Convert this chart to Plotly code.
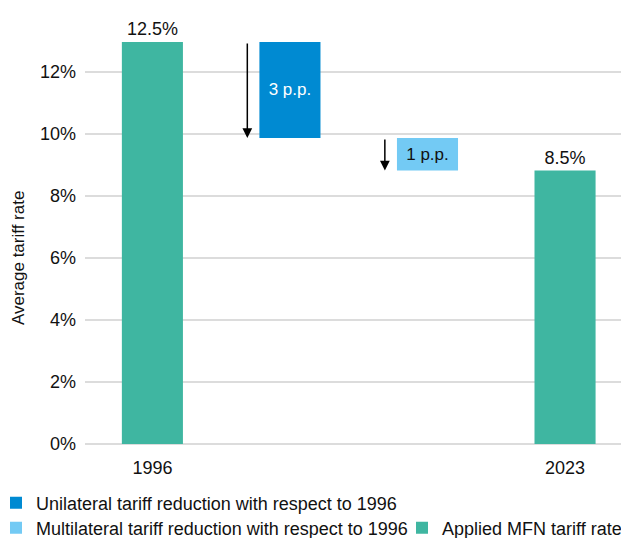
import plotly.graph_objects as go

# ---- data ----
years = ["1996", "2023"]
year_pos = [0, 3]
mfn_rate = [12.97, 8.82]           # bar heights as drawn
mfn_labels = ["12.5%", "8.5%"]
unilateral_reduction = 3.1
multilateral_reduction = 1.05
reduction_labels = ["3 p.p.", "1 p.p."]
y_ticks = [0, 2, 4, 6, 8, 10, 12]
y_ticktext = ["0%", "2%", "4%", "6%", "8%", "10%", "12%"]

TEAL = "#3FB6A1"
BLUE = "#008AD2"
LIGHT = "#73CAF4"
FONT = "Liberation Sans, Arial, sans-serif"

# page body adds an 8px margin, so the figure is 8px smaller each way
W, H = 621, 530

uni_base = mfn_rate[0] - unilateral_reduction
multi_base = uni_base - multilateral_reduction

fig = go.Figure()

fig.add_trace(go.Bar(
    x=[1], y=[unilateral_reduction], base=[uni_base],
    name="Unilateral tariff reduction with respect to 1996",
    marker=dict(color=BLUE, line=dict(width=0)), width=0.444,
    text=[reduction_labels[0]], textposition="inside", insidetextanchor="middle",
    textangle=0, textfont=dict(color="white", size=17, family=FONT),
    constraintext="none",
    legend="legend", cliponaxis=False,
))
fig.add_trace(go.Bar(
    x=[2], y=[multilateral_reduction], base=[multi_base],
    name="Multilateral tariff reduction with respect to 1996",
    marker=dict(color=LIGHT, line=dict(width=0)), width=0.444,
    text=[reduction_labels[1]], textposition="inside", insidetextanchor="middle",
    textangle=0, textfont=dict(color="#111111", size=17, family=FONT),
    constraintext="none",
    legend="legend2", cliponaxis=False,
))
fig.add_trace(go.Bar(
    x=year_pos, y=mfn_rate,
    name="Applied MFN tariff rate",
    marker=dict(color=TEAL, line=dict(width=0)), width=0.444,
    text=mfn_labels, textposition="outside",
    textfont=dict(color="#111111", size=18, family=FONT),
    constraintext="none",
    legend="legend3", cliponaxis=False,
))

# arrows showing the reductions
arrow_specs = [
    (1 - 0.31, mfn_rate[0], uni_base),
    (2 - 0.31, uni_base, multi_base),
]
for xa, ytop, ybot in arrow_specs:
    fig.add_annotation(
        x=xa, y=ybot, ax=xa, ay=ytop, xref="x", yref="y", axref="x", ayref="y",
        showarrow=True, arrowhead=2, arrowsize=1.3, arrowwidth=1.5,
        arrowcolor="black", text="",
    )

# y axis title
fig.add_annotation(
    text="Average tariff rate", textangle=-90, showarrow=False,
    xref="paper", yref="paper", x=-0.123, y=0.4615,
    xanchor="center", yanchor="middle",
    font=dict(size=17, family=FONT, color="#111111"),
)

leg_font = dict(size=18, family=FONT, color="#111111")
common = dict(xref="container", yref="container", xanchor="left", yanchor="middle",
              font=leg_font, bgcolor="rgba(0,0,0,0)", borderwidth=0,
              indentation=-12, itemclick=False, itemdoubleclick=False)
fig.update_layout(
    width=W, height=H,
    margin=dict(l=77, r=0, t=33, b=94, autoexpand=False),
    plot_bgcolor="white", paper_bgcolor="white",
    font=dict(family=FONT, size=18, color="#111111"),
    barmode="overlay",
    showlegend=True,
    legend=dict(x=0.0, y=1 - 495 / H, **common),
    legend2=dict(x=0.0, y=1 - 520 / H, **common),
    legend3=dict(x=406 / W, y=1 - 520 / H, **common),
    xaxis=dict(
        range=[-0.49, 3.465], tickvals=year_pos, ticktext=years,
        showgrid=False, zeroline=False, showline=False, ticks="",
        ticklabelstandoff=11,
        tickfont=dict(size=18, family=FONT), fixedrange=True, automargin=False,
    ),
    yaxis=dict(
        range=[0, 13], tickvals=y_ticks, ticktext=y_ticktext,
        showgrid=True, gridcolor="#DCDCDC", gridwidth=1.5,
        zeroline=True, zerolinecolor="#DCDCDC", zerolinewidth=1.5,
        showline=False, ticks="", ticklabelstandoff=8,
        tickfont=dict(size=18, family=FONT), automargin=False,
        fixedrange=True,
    ),
)

fig.write_html("out.html")
